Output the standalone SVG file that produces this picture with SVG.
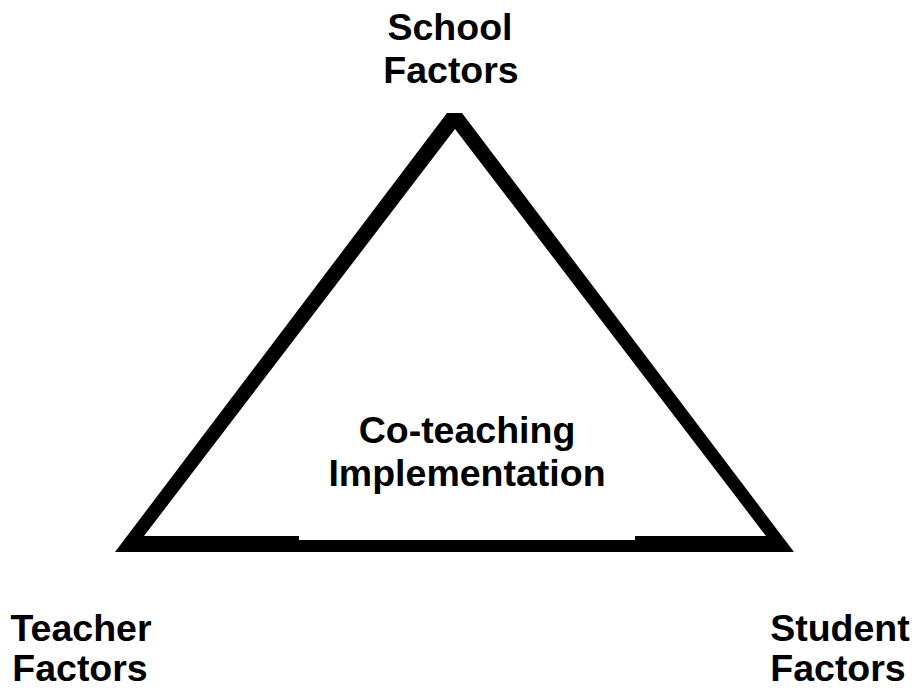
<svg xmlns="http://www.w3.org/2000/svg" width="912" height="689" viewBox="0 0 912 689">
  <style>
    .lbl { font-family: "Liberation Sans", Arial, sans-serif; font-weight: bold; font-size: 37.5px; fill: #000; text-anchor: middle; }
  </style>
  <rect width="912" height="689" fill="#fff"/>
  <g id="connectors">
    <path id="triangle" fill="#000" fill-rule="evenodd" d="M115,552 L447,113 L462,113 L794,552 Z M144,536 L455,129 L766,536 Z"/>
  </g>
  <g id="center-node">
    <rect x="299" y="400" width="336" height="140" fill="#fff"/>
    <text class="lbl" x="467" y="443">Co-teaching</text>
    <text class="lbl" x="467" y="486">Implementation</text>
  </g>
  <g id="school-node">
    <text class="lbl" x="450" y="40">School</text>
    <text class="lbl" x="451" y="83">Factors</text>
  </g>
  <g id="teacher-node">
    <text class="lbl" x="81" y="641">Teacher</text>
    <text class="lbl" x="80" y="681">Factors</text>
  </g>
  <g id="student-node">
    <text class="lbl" x="840" y="641">Student</text>
    <text class="lbl" x="838" y="681">Factors</text>
  </g>
</svg>
